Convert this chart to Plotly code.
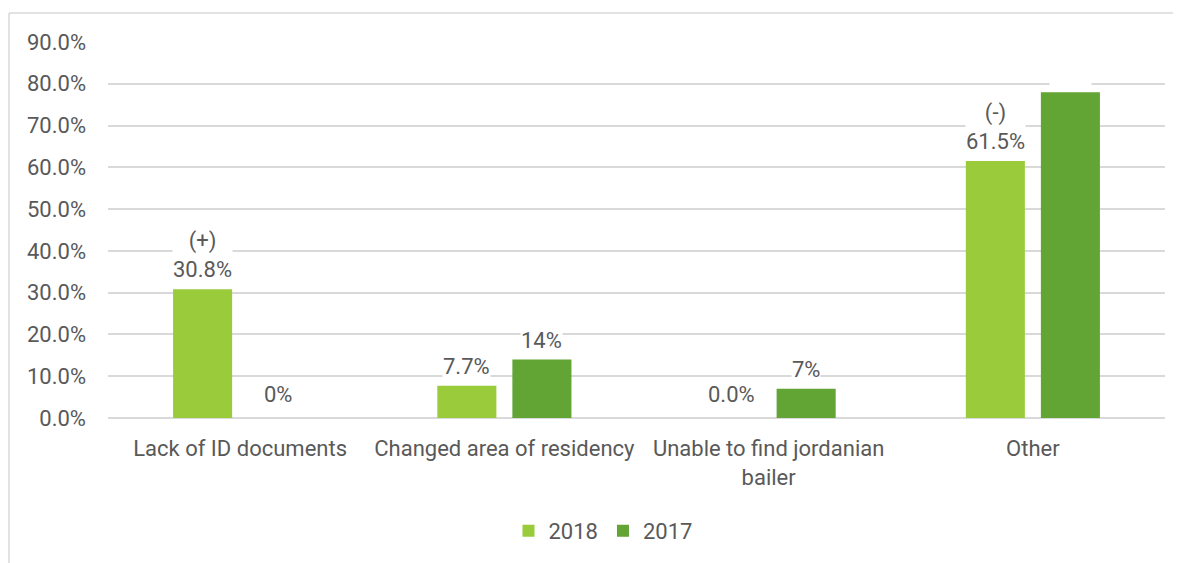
import plotly.graph_objects as go

categories = ["Lack of ID documents", "Changed area of residency",
              "Unable to find jordanian<br>bailer", "Other"]
series_names = ["2018", "2017"]
values_2018 = [30.8, 7.7, 0.0, 61.5]
values_2017 = [0.0, 14.0, 7.0, 78.0]
labels_2018 = ["(+)<br>30.8%", "7.7%", "0.0%", "(-)<br>61.5%"]
labels_2017 = ["0%", "14%", "7%", "78%"]
y_ticks = [0, 10, 20, 30, 40, 50, 60, 70, 80, 90]

colors = ["#9ACB3A", "#62A535"]
label_colors = [["#595959"] * 4, ["#595959", "#595959", "#595959", "#FFFFFF"]]
FONT = "Roboto"
FS = 22
TXT = "#595959"

# page body adds an 8px offset
OFF = 8
W, H = 1181, 563
ml, mr, mt, mb = 108 - OFF, W - (1165 - OFF), 42 - OFF, H - (418 - OFF)
pw, ph = W - ml - mr, H - mt - mb

fig = go.Figure()
for name, vals, col in zip(series_names, [values_2018, values_2017], colors):
    fig.add_trace(go.Bar(x=categories, y=vals, name=name, marker_color=col,
                         marker_line_width=0))

cat_px = pw / len(categories)
bargap = 0.432
bargroupgap = 0.213
slot = cat_px * (1 - bargap) / 2
offsets = [-slot / 2, slot / 2]

annotations = []
for si, (vals, labs) in enumerate([(values_2018, labels_2018), (values_2017, labels_2017)]):
    for ci, (c, v, t) in enumerate(zip(categories, vals, labs)):
        annotations.append(dict(
            x=c, y=v, xref="x", yref="y", text=t, showarrow=False,
            xshift=offsets[si], yshift=6 if v > 0 else 10, yanchor="bottom",
            font=dict(family=FONT, size=FS, color=label_colors[si][ci]),
            bgcolor="#FFFFFF", borderpad=0,
        ))

# frame (only left and top edges visible in the picture)
x0 = (9 - OFF - ml) / pw
y0 = (H - mb - (13 - OFF)) / ph
shapes = [
    dict(type="line", xref="paper", yref="paper", x0=x0, x1=1.2, y0=y0, y1=y0,
         line=dict(color="#D9D9D9", width=1.5)),
    dict(type="line", xref="paper", yref="paper", x0=x0, x1=x0, y0=y0, y1=-0.5,
         line=dict(color="#D9D9D9", width=1.5)),
]

fig.update_layout(
    width=W, height=H,
    margin=dict(l=ml, r=mr, t=mt, b=mb),
    paper_bgcolor="white", plot_bgcolor="white",
    barmode="group", bargap=bargap, bargroupgap=bargroupgap,
    font=dict(family=FONT, size=FS, color=TXT),
    xaxis=dict(showgrid=False, showline=False, ticks="", tickfont=dict(size=FS, color=TXT),
               ticklabelstandoff=15),
    yaxis=dict(range=[0, 90], tickvals=y_ticks, ticktext=[f"{t:.1f}%" for t in y_ticks],
               showgrid=True, gridcolor="#D9D9D9", gridwidth=1.5,
               zeroline=True, zerolinecolor="#D9D9D9", zerolinewidth=1.5,
               showline=False, ticks="", ticklabelstandoff=21,
               tickfont=dict(size=FS, color=TXT)),
    legend=dict(orientation="h", x=(603 - OFF - ml) / pw, xanchor="center",
                y=(H - mb - (531 - OFF)) / ph, yanchor="middle",
                font=dict(size=FS, color=TXT), itemwidth=30, traceorder="normal"),
    annotations=annotations,
    shapes=shapes,
)

fig.write_html("out.html")
